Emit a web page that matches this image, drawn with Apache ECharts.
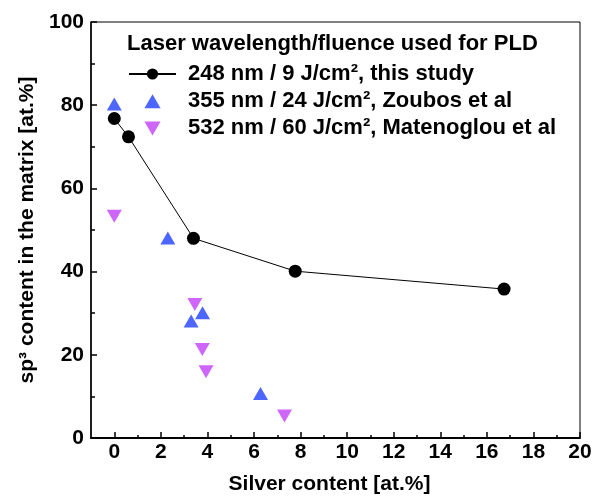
<!DOCTYPE html>
<html><head><meta charset="utf-8">
<script src="https://cdn.jsdelivr.net/npm/echarts@6/dist/echarts.min.js"></script>
<style>html,body{margin:0;padding:0;background:#fff}#c{width:595px;height:499px}</style>
</head><body><div id="c"></div>
<script>
const legendTitle = 'Laser wavelength/fluence used for PLD';
const seriesNames = ['248 nm / 9 J/cm², this study', '355 nm / 24 J/cm², Zoubos et al', '532 nm / 60 J/cm², Matenoglou et al'];
const thisStudyX = [0, 0.61, 3.40, 7.77, 16.74];
const thisStudyY = [76.8, 72.4, 48.0, 40.1, 35.8];
const zoubosX = [0, 2.30, 3.30, 3.79, 6.28];
const zoubosY = [80.3, 48.1, 28.1, 30.1, 10.7];
const matenoglouX = [0, 3.46, 3.78, 3.94, 7.31];
const matenoglouY = [53.3, 32.1, 21.3, 15.9, 5.3];
const xTickLabels = [0, 2, 4, 6, 8, 10, 12, 14, 16, 18, 20];
const xMinorTicks = [1, 3, 5, 7, 9, 11, 13, 15, 17, 19];
const xName = 'Silver content [at.%]';
const yName = 'sp³ content in the matrix [at.%]';

const zip = (xs, ys) => xs.map((x, i) => [x, ys[i]]);
const font = 'Liberation Sans, Arial, sans-serif';
const triUp = 'path://M7.5,0L15,13L0,13Z';
const triDown = 'path://M0,0L15,0L7.5,13Z';
const txt = {fontFamily: font, fontSize: 21, fontWeight: 'bold', color: '#000'};
const legTxt = {fontFamily: font, fontSize: 22, fontWeight: 'bold', color: '#000'};
const chart = echarts.init(document.getElementById('c'), null, {renderer: 'canvas'});
chart.setOption({
  animation: false,
  backgroundColor: '#fff',
  title: {
    text: legendTitle, left: 127, top: 33, padding: 0,
    textStyle: legTxt
  },
  legend: {
    orient: 'vertical', left: 128, top: 63, padding: 0,
    itemWidth: 47, itemHeight: 14, itemGap: 5.2,
    textStyle: Object.assign({}, legTxt, {padding: [0, 0, 0, 7]}),
    data: seriesNames
  },
  grid: {left: 91, right: 15, top: 22, bottom: 61, show: true, borderColor: '#000', borderWidth: 1,
         containLabel: false, outerBoundsMode: 'none'},
  xAxis: [{
    type: 'value', min: -1, max: 20, position: 'bottom',
    name: xName, nameLocation: 'middle', nameGap: 36,
    nameTextStyle: Object.assign({}, txt, {padding: [0, 12, 0, 0]}),
    axisLine: {onZero: false, lineStyle: {color: '#000', width: 2}},
    axisTick: {inside: true, length: 6, lineStyle: {color: '#000', width: 1.5}, customValues: xTickLabels},
    axisLabel: Object.assign({customValues: xTickLabels, margin: 4}, txt),
    splitLine: {show: false}
  }, {
    type: 'value', min: -1, max: 20, position: 'bottom', gridIndex: 0,
    axisLine: {show: false},
    axisTick: {inside: true, length: 3, lineStyle: {color: '#000', width: 1.5}, customValues: xMinorTicks},
    axisLabel: {show: false},
    splitLine: {show: false}
  }],
  yAxis: {
    type: 'value', min: 0, max: 100, interval: 20,
    name: yName, nameLocation: 'middle', nameGap: 50,
    nameTextStyle: txt,
    axisLine: {onZero: false, lineStyle: {color: '#000', width: 1.5}},
    axisTick: {inside: true, length: 6, lineStyle: {color: '#000', width: 1.5}},
    minorTick: {show: true, splitNumber: 2, length: 4, lineStyle: {color: '#000', width: 1.5}},
    axisLabel: Object.assign({margin: 7}, txt),
    splitLine: {show: false}
  },
  series: [{
    name: seriesNames[0], type: 'line', data: zip(thisStudyX, thisStudyY),
    symbol: 'circle', symbolSize: 13, z: 5,
    lineStyle: {color: '#000', width: 1}, itemStyle: {color: '#000'}
  }, {
    name: seriesNames[1], type: 'scatter', data: zip(zoubosX, zoubosY),
    symbol: triUp, symbolSize: [15, 13], itemStyle: {color: '#2040ff'}
  }, {
    name: seriesNames[2], type: 'scatter', data: zip(matenoglouX, matenoglouY),
    symbol: triDown, symbolSize: [15, 13], itemStyle: {color: '#c040f8'}
  }]
});
</script></body></html>
